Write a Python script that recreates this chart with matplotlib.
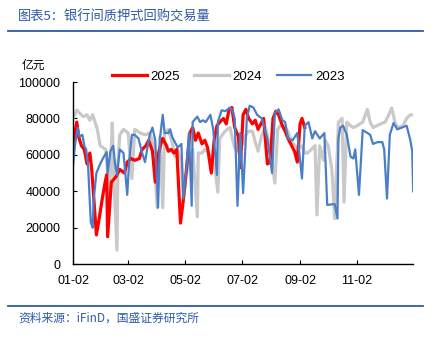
import matplotlib
matplotlib.use('Agg')
import matplotlib.pyplot as plt
from matplotlib.lines import Line2D

plt.rcParams['font.family'] = ['Liberation Sans', 'Noto Sans CJK SC', 'DejaVu Sans']

# days counted from 01-02, values in 亿元
days_2025 = [0, 2, 4, 6, 9, 12, 15, 18, 20, 25, 28, 31, 34, 36, 37, 41, 46, 50, 55, 58,
             62, 66, 71, 74, 78, 81, 85, 88, 91, 94, 96, 100, 102, 105, 108, 111, 115, 118, 121, 125,
             128, 131, 134, 138, 141, 144, 148, 151, 154, 157, 161, 164, 167, 170, 173, 177, 179, 182, 185, 188,
             192, 195, 198, 201, 204, 208, 211, 214, 217, 220, 224, 227, 230, 233, 237, 240, 243, 245, 248]
vol_2025 = [67000, 72000, 78000, 70000, 65000, 63000, 55000, 61000, 52000, 16000, 25000, 35000, 44000, 49000, 15000, 45000, 48000, 52000, 50000, 56000,
            58000, 57000, 58000, 63000, 65000, 68000, 62000, 45000, 60000, 66000, 69000, 65000, 62000, 63000, 61000, 63000, 22500, 35000, 50000, 72000,
            75000, 68000, 72000, 66000, 68000, 64000, 50000, 68000, 76000, 78000, 80000, 77000, 85000, 86000, 75000, 70000, 53000, 82000, 85000, 80000,
            77000, 79000, 74000, 77000, 80000, 55000, 56000, 80000, 84000, 82000, 76000, 73000, 69000, 66000, 62000, 56000, 77000, 80000, 75000]

days_2024 = [0, 4, 7, 11, 15, 18, 21, 26, 29, 32, 35, 39, 42, 43, 47, 48, 50, 54, 59, 63,
             66, 72, 77, 82, 86, 90, 93, 96, 98, 102, 106, 109, 112, 116, 118, 121, 125, 128, 133, 134,
             138, 141, 144, 149, 152, 155, 157, 162, 165, 168, 171, 173, 176, 179, 182, 185, 188, 192, 195, 198,
             202, 206, 209, 212, 216, 219, 223, 227, 230, 234, 238, 241, 245, 248, 251, 255, 259, 261, 264, 268,
             270, 273, 277, 280, 284, 288, 290, 293, 297, 300, 304, 310, 315, 318, 321, 325, 329, 334, 337, 341,
             345, 348, 353, 357, 361, 364]
vol_2024 = [80000, 84600, 83000, 81000, 82000, 79000, 82000, 74000, 65000, 64000, 63000, 38000, 77500, 55000, 7700, 55000, 71000, 74000, 72000, 47000,
            74000, 72000, 71000, 72000, 66000, 31000, 70000, 31000, 72000, 74000, 67000, 59000, 63000, 55000, 36000, 49000, 58000, 63000, 26000, 61000,
            61000, 63000, 62000, 57000, 52000, 39500, 69000, 72500, 74000, 75000, 68000, 64000, 62000, 67000, 66000, 71000, 73000, 73000, 67000, 62000,
            71000, 75000, 68000, 60000, 44500, 74000, 77000, 75000, 73000, 67000, 65000, 63000, 65000, 61000, 61000, 63000, 65000, 27000, 65000, 57000,
            68000, 65000, 52000, 25000, 78000, 80000, 34000, 78000, 76000, 75000, 76000, 78000, 85000, 78000, 75000, 76000, 77000, 78000, 81000, 85700,
            77000, 75000, 76000, 80000, 82000, 82000]

days_2023 = [0, 2, 5, 7, 10, 12, 14, 16, 19, 21, 22, 25, 29, 33, 36, 37, 40, 43, 45, 47,
             50, 54, 58, 60, 63, 66, 70, 74, 77, 82, 85, 88, 91, 93, 96, 98, 102, 104, 106, 109,
             112, 116, 118, 121, 124, 127, 128, 133, 136, 139, 142, 147, 150, 154, 155, 159, 163, 168, 171, 173,
             176, 179, 182, 186, 189, 193, 197, 202, 208, 213, 216, 220, 224, 227, 230, 235, 240, 245, 248, 252,
             256, 259, 264, 269, 272, 280, 283, 284, 286, 289, 293, 297, 300, 302, 306, 310, 315, 318, 321, 326,
             331, 333, 336, 339, 343, 347, 352, 357, 361, 363, 364]
vol_2023 = [54000, 65000, 75000, 70000, 71000, 65000, 63000, 55000, 23000, 20000, 35000, 50000, 55000, 59000, 61500, 50000, 62000, 65000, 55000, 49000,
            63000, 61000, 38000, 56000, 71000, 71000, 69000, 61000, 56000, 71000, 75000, 68000, 31000, 69000, 82000, 72000, 72000, 74000, 70000, 67000,
            64000, 66000, 36000, 50000, 72000, 32000, 78000, 81000, 78000, 79000, 78000, 82000, 74000, 49000, 78000, 84500, 84000, 86000, 84000, 80000,
            32000, 72000, 39000, 80000, 87000, 86000, 82000, 80000, 69000, 50000, 83000, 85000, 79000, 78000, 69000, 68000, 72000, 47000, 76000, 78000,
            69000, 73000, 69000, 72000, 32500, 33000, 25000, 69000, 75000, 76000, 71000, 59000, 58000, 63000, 38000, 73600, 72000, 71000, 66000, 67000,
            67000, 63000, 36000, 71000, 77500, 74000, 75000, 76000, 68000, 62000, 40000]

tick_days = [0, 59, 120, 181, 243, 304]
tick_labels = ['01-02', '03-02', '05-02', '07-02', '09-02', '11-02']

fig = plt.figure(figsize=(4.4, 3.39), dpi=100)
ax = fig.add_axes([0.166, 0.221, 0.773, 0.537])

l24, = ax.plot(days_2024, vol_2024, color='#c9c9c9', lw=2.3, label='2024')
l25, = ax.plot(days_2025, vol_2025, color='#ff0000', lw=2.3, label='2025')
l23, = ax.plot(days_2023, vol_2023, color='#4a7fc8', lw=1.6, label='2023')

ax.set_xlim(0, 364)
ax.set_ylim(0, 100000)
ax.set_yticks(range(0, 100001, 20000))
ax.set_xticks(tick_days)
ax.set_xticklabels(tick_labels)
ax.tick_params(direction='in', length=3, width=0.8, labelsize=9)
ax.tick_params(axis='y', pad=9)
ax.tick_params(axis='x', pad=8)
for s in ['top', 'right']:
    ax.spines[s].set_visible(False)
for s in ['left', 'bottom']:
    ax.spines[s].set_linewidth(1)

fig.legend(handles=[l25, l24, l23], loc='center', bbox_to_anchor=(0.519, 0.773),
           ncol=3, frameon=False, fontsize=9.5, handlelength=2.6, handletextpad=0.3,
           columnspacing=1.1)

fig.text(0.075, 0.808, '亿元', fontsize=8.5, ha='center', va='center', family=['Noto Sans CJK SC'])

blue = '#2f5aa6'
fig.text(0.041, 0.949, '图表5：银行间质押式回购交易量', fontsize=9.5, color=blue,
         style='italic', va='center', family=['Noto Sans CJK SC', 'DejaVu Sans'])
fig.add_artist(Line2D([0.018, 0.961], [0.909, 0.909], color=blue, lw=1.3))
fig.add_artist(Line2D([0.018, 0.961], [0.097, 0.097], color=blue, lw=1.3))
fig.text(0.041, 0.062, '资料来源：iFinD，国盛证券研究所', fontsize=8.5, color=blue,
         style='italic', va='center', family=['Noto Sans CJK SC', 'DejaVu Sans'])

fig.savefig('out.png', dpi=100)
